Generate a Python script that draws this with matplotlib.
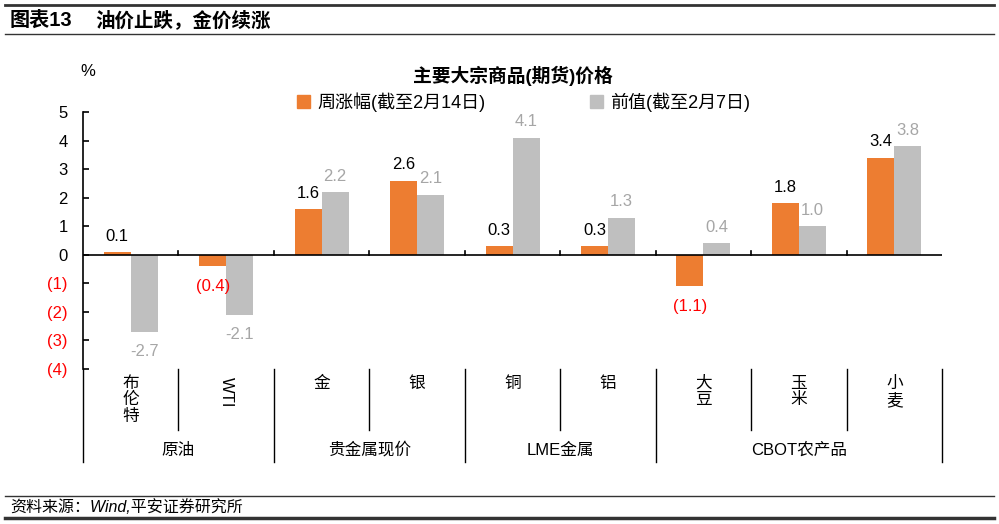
import numpy as np
import matplotlib.pyplot as plt
from matplotlib.lines import Line2D
from matplotlib.patches import Patch
import matplotlib.transforms as mtransforms

plt.rcParams['font.family'] = ['Liberation Sans', 'Noto Sans CJK SC', 'DejaVu Sans']

items = ["布\n伦\n特", "WTI", "金", "银", "铜", "铝", "大\n豆", "玉\n米", "小\n麦"]
groups = ["原油", "贵金属现价", "LME金属", "CBOT农产品"]
group_sizes = [2, 2, 2, 3]
weekly = [0.1, -0.4, 1.6, 2.6, 0.3, 0.3, -1.1, 1.8, 3.4]
previous = [-2.7, -2.1, 2.2, 2.1, 4.1, 1.3, 0.4, 1.0, 3.8]
yticks = [-4, -3, -2, -1, 0, 1, 2, 3, 4, 5]

ORANGE = "#ED7D31"
GRAY = "#BFBFBF"
GRAY_TXT = "#A6A6A6"

fig = plt.figure(figsize=(9.99, 5.24), dpi=100)
ax = fig.add_axes([0.0831, 1 - 369 / 524, 0.943 - 0.0831, 257 / 524])

x = np.arange(len(items))
w = 0.283
ax.bar(x - w / 2, weekly, w, color=ORANGE)
ax.bar(x + w / 2, previous, w, color=GRAY)
ax.set_xlim(-0.5, len(items) - 0.5)
ax.set_ylim(-4, 5)

ax.axhline(0, color="black", lw=1.2, zorder=3)
for s in ["top", "right", "bottom"]:
    ax.spines[s].set_visible(False)
ax.spines["left"].set_linewidth(1.2)
ax.set_xticks([])
ax.set_yticks(yticks)
ax.set_yticklabels([f"({abs(v)})" if v < 0 else str(v) for v in yticks], fontsize=12)
for lab, v in zip(ax.get_yticklabels(), yticks):
    lab.set_color("red" if v < 0 else "black")
ax.tick_params(axis="y", direction="in", length=4, width=1.2, pad=11)

# small ticks on the zero line at category boundaries
for b in np.arange(0.5, len(items) - 0.5, 1):
    ax.plot([b, b], [0, 0.13], color="black", lw=1.2, zorder=3)

# bar value labels
for xi, v in zip(x, weekly):
    if v >= 0:
        ax.annotate(f"{v:.1f}", (xi - w / 2, v), xytext=(0, 6), textcoords="offset points",
                    ha="center", va="bottom", fontsize=12, color="black")
    else:
        ax.annotate(f"({abs(v):.1f})", (xi - w / 2, v), xytext=(0, -9), textcoords="offset points",
                    ha="center", va="top", fontsize=12, color="red")
for xi, v in zip(x, previous):
    ax.annotate(f"{v:.1f}", (xi + w / 2, v), xytext=(0, 6 if v >= 0 else -9),
                textcoords="offset points", ha="center", va="bottom" if v >= 0 else "top",
                fontsize=12, color=GRAY_TXT)

# category axis below
trans = mtransforms.blended_transform_factory(ax.transData, ax.transAxes)
inner_bottom = -61 / 257
group_bottom = -93 / 257
bounds = np.cumsum([0] + group_sizes) - 0.5
for b in bounds:
    ax.add_line(Line2D([b, b], [0, group_bottom], transform=trans, color="black", lw=1, clip_on=False))
for b in np.arange(0.5, len(items) - 0.5, 1):
    if b not in bounds:
        ax.add_line(Line2D([b, b], [0, inner_bottom], transform=trans, color="black", lw=1, clip_on=False))
for xi, lab in zip(x, items):
    if lab == "WTI":
        ax.text(xi, -8 / 257, lab, transform=trans, rotation=-90, ha="center", va="top",
                fontsize=12)
    else:
        ax.text(xi, -7 / 257, lab, transform=trans, ha="center", va="top", fontsize=12,
                linespacing=1.1)
for g, lo, hi in zip(groups, bounds[:-1], bounds[1:]):
    ax.text((lo + hi) / 2, -81 / 257, g, transform=trans, ha="center", va="center", fontsize=12)

# title, unit, legend
fig.text(513 / 999, 1 - 76 / 524, "主要大宗商品(期货)价格", ha="center", va="center",
         fontsize=13.5, fontweight="bold")
fig.text(88 / 999, 1 - 72 / 524, "%", ha="center", va="center", fontsize=12)
handles = [Patch(color=ORANGE, label="周涨幅(截至2月14日)"), Patch(color=GRAY, label="前值(截至2月7日)")]
fig.legend(handles=handles, loc="center", bbox_to_anchor=(0.524, 1 - 102 / 524), ncol=2,
           frameon=False, fontsize=13, handlelength=0.7, handleheight=0.7,
           handletextpad=0.4, columnspacing=5.8)

# header and footer
fig.add_artist(Line2D([5 / 999, 994 / 999], [1 - 5 / 524] * 2, color="#333333", lw=2))
fig.add_artist(Line2D([5 / 999, 994 / 999], [1 - 34 / 524] * 2, color="#333333", lw=1))
fig.text(10 / 999, 1 - 20 / 524, "图表13", ha="left", va="center", fontsize=14.5, fontweight="bold")
fig.text(95 / 999, 1 - 20 / 524, "油价止跌，金价续涨", ha="left", va="center", fontsize=14,
         fontweight="bold")
fig.add_artist(Line2D([5 / 999, 994 / 999], [1 - 496 / 524] * 2, color="#333333", lw=1))
fig.add_artist(Line2D([5 / 999, 994 / 999], [1 - 518 / 524] * 2, color="#333333", lw=2.5))
fig.text(10 / 999, 1 - 507 / 524, "资料来源：Wind,平安证券研究所", ha="left", va="center",
         fontsize=11.5, style="italic")

fig.savefig("out.png", dpi=100)
